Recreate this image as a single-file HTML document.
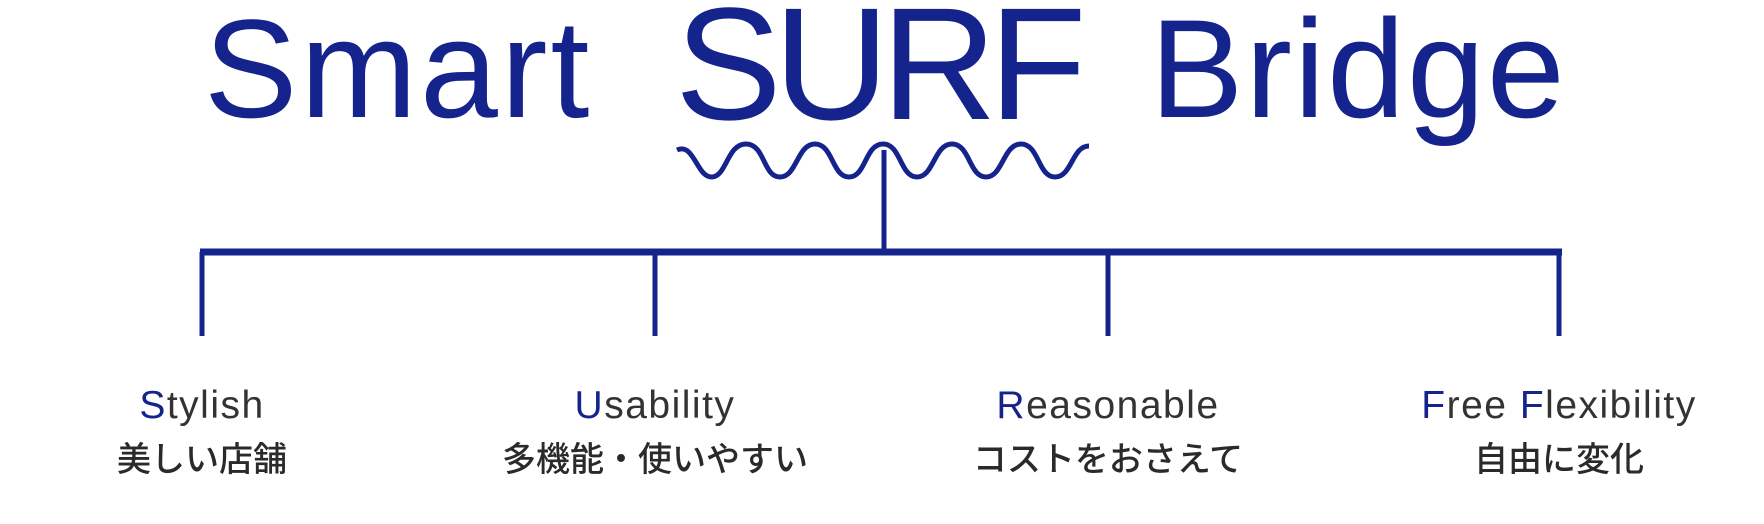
<!DOCTYPE html>
<html><head><meta charset="utf-8"><style>
body{margin:0;width:1764px;height:524px;background:#fff;overflow:hidden;position:relative;font-family:"Liberation Sans","Noto Sans CJK JP",sans-serif}
.t{position:absolute;color:#15238c;white-space:nowrap;line-height:1}
.l{position:absolute;width:400px;text-align:center;color:#333;white-space:nowrap;line-height:1}
.l b{font-weight:normal;color:#15238c}
.e{font-size:39px;top:386px;letter-spacing:1.5px}
.j{font-size:34px;top:443px;font-weight:500;color:#2a2a2a}
</style></head><body>
<div class="t" style="left:204px;top:-1px;font-size:140px;letter-spacing:3px">Smart</div>
<div class="t" style="left:675px;top:-16px;font-size:160px;letter-spacing:-8px">SURF</div>
<div class="t" style="left:1150px;top:-1px;font-size:140px;letter-spacing:2px">Bridge</div>
<svg width="1764" height="524" style="position:absolute;left:0;top:0">
<path d="M677 150 C694 142 697 178 712 177 C727 176 727 144 746 144 C765 144 763 177 780 177 C797 177 797 144 815 144 C833 144 832 177 849 177 C866 177 865 144 883 144 C901 144 900 177 917 177 C934 177 934 144 952 144 C970 144 969 177 986 177 C1003 177 1003 144 1021 144 C1039 144 1038 177 1055 177 C1072 177 1072 146 1089 146" fill="none" stroke="#15238c" stroke-width="5"/>
<line x1="884" y1="150" x2="884" y2="252" stroke="#15238c" stroke-width="5"/>
<line x1="200" y1="252" x2="1562" y2="252" stroke="#15238c" stroke-width="7"/>
<g stroke="#15238c" stroke-width="5">
<line x1="202" y1="252" x2="202" y2="336"/><line x1="655" y1="252" x2="655" y2="336"/>
<line x1="1108" y1="252" x2="1108" y2="336"/><line x1="1559" y1="252" x2="1559" y2="336"/></g>
</svg>
<div class="l e" style="left:2px"><b>S</b>tylish</div>
<div class="l j" style="left:2px">美しい店舗</div>
<div class="l e" style="left:455px"><b>U</b>sability</div>
<div class="l j" style="left:455px">多機能・使いやすい</div>
<div class="l e" style="left:908px"><b>R</b>easonable</div>
<div class="l j" style="left:908px">コストをおさえて</div>
<div class="l e" style="left:1359px"><b>F</b>ree <b>F</b>lexibility</div>
<div class="l j" style="left:1359px">自由に変化</div>
</body></html>
